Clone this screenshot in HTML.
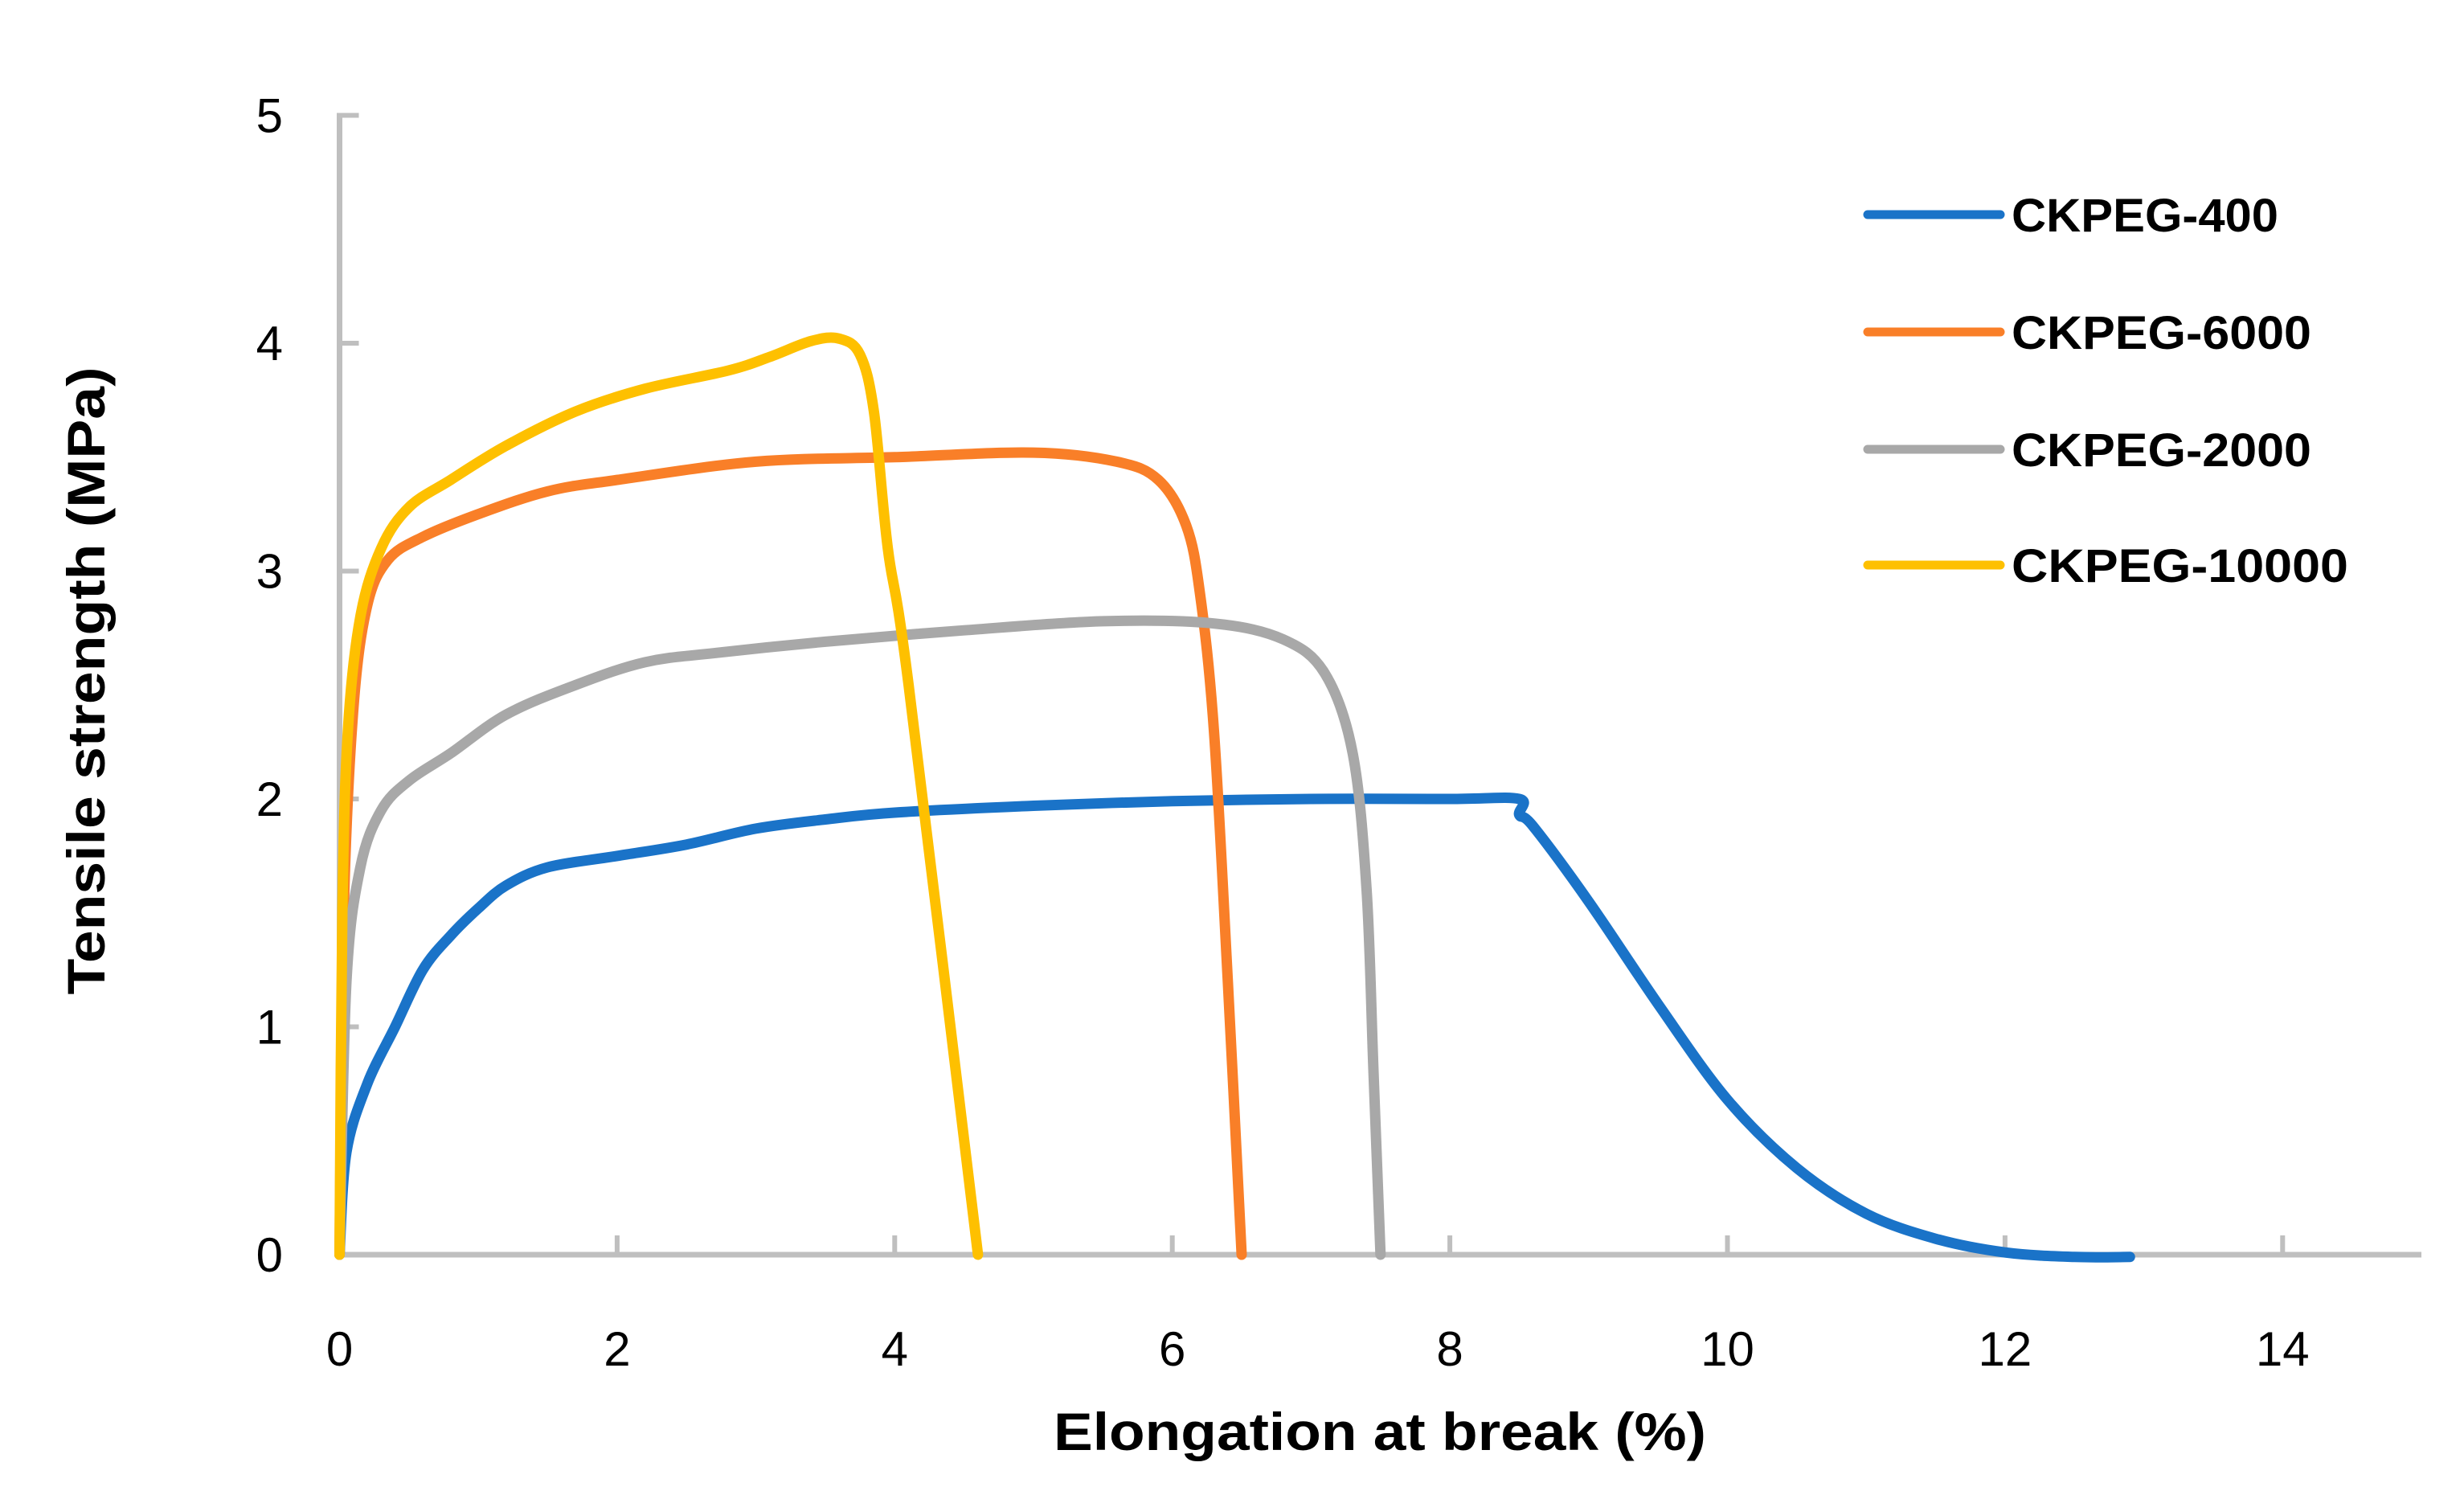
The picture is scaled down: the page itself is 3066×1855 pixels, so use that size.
<!DOCTYPE html>
<html><head><meta charset="utf-8"><style>
html,body{margin:0;padding:0;background:#fff;}
svg{display:block;font-family:"Liberation Sans",Arial,sans-serif;}
</style></head><body>
<svg id="chart" width="3066" height="1855" viewBox="0 0 3066 1855" xmlns="http://www.w3.org/2000/svg">
<g id="axes"></g>
<g id="series"></g>
<text x="1717" y="1804" text-anchor="middle" font-size="66" font-weight="bold" textLength="812" lengthAdjust="spacingAndGlyphs">Elongation at break (%)</text>
<text transform="translate(130,847) rotate(-90)" text-anchor="middle" font-size="66" font-weight="bold" textLength="781" lengthAdjust="spacingAndGlyphs">Tensile strength (MPa)</text>
<g id="legend"></g>
</svg>
<script>
const seriesNames = ["CKPEG-400","CKPEG-6000","CKPEG-2000","CKPEG-10000"];
const seriesColors = ["#1a73c8","#f97f28","#a8a8a8","#fec000"];
const xTicks = [0,2,4,6,8,10,12,14];
const yTicks = [0,1,2,3,4,5];
const s400x = [0,0.05,0.2,0.4,0.6,0.8,1.0,1.2,1.5,2,2.5,3,3.5,4,5,6,7,8,8.5,8.5,8.6,9,9.5,10,10.5,11,11.5,12,12.5,12.9];
const s400y = [0,0.45,0.75,1.0,1.25,1.4,1.52,1.62,1.7,1.75,1.8,1.87,1.91,1.94,1.97,1.99,2.0,2.0,2.0,1.93,1.88,1.55,1.1,0.68,0.38,0.18,0.07,0.01,-0.01,-0.01];
const s6000x = [0,0.03,0.1,0.2,0.35,0.6,1,1.5,2,3,4,5,5.6,5.9,6.1,6.2,6.3,6.4,6.5];
const s6000y = [0,1.5,2.4,2.85,3.05,3.15,3.25,3.35,3.4,3.48,3.5,3.52,3.48,3.4,3.2,2.9,2.3,1.2,0];
const s2000x = [0,0.05,0.15,0.3,0.5,0.8,1.2,1.7,2.2,2.7,3.5,4.5,5.5,6.3,6.8,7.1,7.3,7.4,7.45,7.5];
const s2000y = [0,1.2,1.7,1.95,2.08,2.2,2.37,2.5,2.6,2.64,2.69,2.74,2.78,2.77,2.7,2.55,2.2,1.6,0.8,0];
const s10000x = [0,0.02,0.06,0.15,0.3,0.5,0.8,1.2,1.7,2.2,2.8,3.1,3.4,3.6,3.75,3.85,3.95,4.1,4.6];
const s10000y = [0,1.5,2.3,2.8,3.1,3.28,3.4,3.55,3.7,3.8,3.88,3.94,4.01,4.02,3.95,3.7,3.1,2.5,0];

const X0=422.5, XU=172.7, Y0=1561, YU=283.5;
function xs(v){return X0+v*XU;}
function ys(v){return Y0-v*YU;}
const NS="http://www.w3.org/2000/svg";
function mk(tag,attrs,parent){const e=document.createElementNS(NS,tag);for(const k in attrs)e.setAttribute(k,attrs[k]);parent.appendChild(e);return e;}
function smoothPath(p){
  let d='M'+p[0][0].toFixed(1)+','+p[0][1].toFixed(1);
  for(let i=0;i<p.length-1;i++){
    const p0=p[Math.max(i-1,0)],p1=p[i],p2=p[i+1],p3=p[Math.min(i+2,p.length-1)];
    const c1x=p1[0]+(p2[0]-p0[0])/6,c1y=p1[1]+(p2[1]-p0[1])/6;
    const c2x=p2[0]-(p3[0]-p1[0])/6,c2y=p2[1]-(p3[1]-p1[1])/6;
    d+=' C'+c1x.toFixed(1)+','+c1y.toFixed(1)+' '+c2x.toFixed(1)+','+c2y.toFixed(1)+' '+p2[0].toFixed(1)+','+p2[1].toFixed(1);
  }
  return d;
}
const axes=document.getElementById('axes');
let e;
e=mk('line',{x1:X0,y1:Y0,x2:xs(15),y2:Y0,stroke:'#bfbfbf','stroke-width':7},axes);


e=mk('line',{x1:X0,y1:Y0+3,x2:X0,y2:ys(5)-3,stroke:'#bfbfbf','stroke-width':7},axes);


xTicks.forEach(t=>{
  const tk=mk('line',{x1:xs(t),y1:Y0,x2:xs(t),y2:Y0-24,stroke:'#bfbfbf','stroke-width':6},axes);
  
  
  const lb=mk('text',{x:xs(t),y:1699,'text-anchor':'middle','font-size':60,fill:'#000'},axes);
  lb.textContent=t;
  
  
});
yTicks.forEach(t=>{
  const tk=mk('line',{x1:X0,y1:ys(t),x2:X0+24,y2:ys(t),stroke:'#bfbfbf','stroke-width':6},axes);
  
  
  const lb=mk('text',{x:352,y:ys(t)+21,'text-anchor':'end','font-size':60,fill:'#000'},axes);
  lb.textContent=t;
  
  
});
const allX=[s400x,s6000x,s2000x,s10000x], allY=[s400y,s6000y,s2000y,s10000y];
const sg=document.getElementById('series');
allX.forEach((xa,i)=>{
  const pts=xa.map((x,j)=>[xs(x),ys(allY[i][j])]);
  const pl=mk('path',{d:smoothPath(pts),fill:'none',stroke:seriesColors[i],'stroke-width':13,'stroke-linejoin':'round','stroke-linecap':'round'},sg);
  
  
});
const lg=document.getElementById('legend');
const legY=[267,413,559,703];
seriesNames.forEach((n,i)=>{
  const ln=mk('line',{x1:2324,y1:legY[i],x2:2489,y2:legY[i],stroke:seriesColors[i],'stroke-width':11,'stroke-linecap':'round'},lg);
  
  
  const tx=mk('text',{x:2503,y:legY[i]+21,'font-size':58,'font-weight':'bold',fill:'#000',textLength:[332,373,373,419][i],lengthAdjust:'spacingAndGlyphs'},lg);
  tx.textContent=n;
  
  
});
</script>
</body></html>
